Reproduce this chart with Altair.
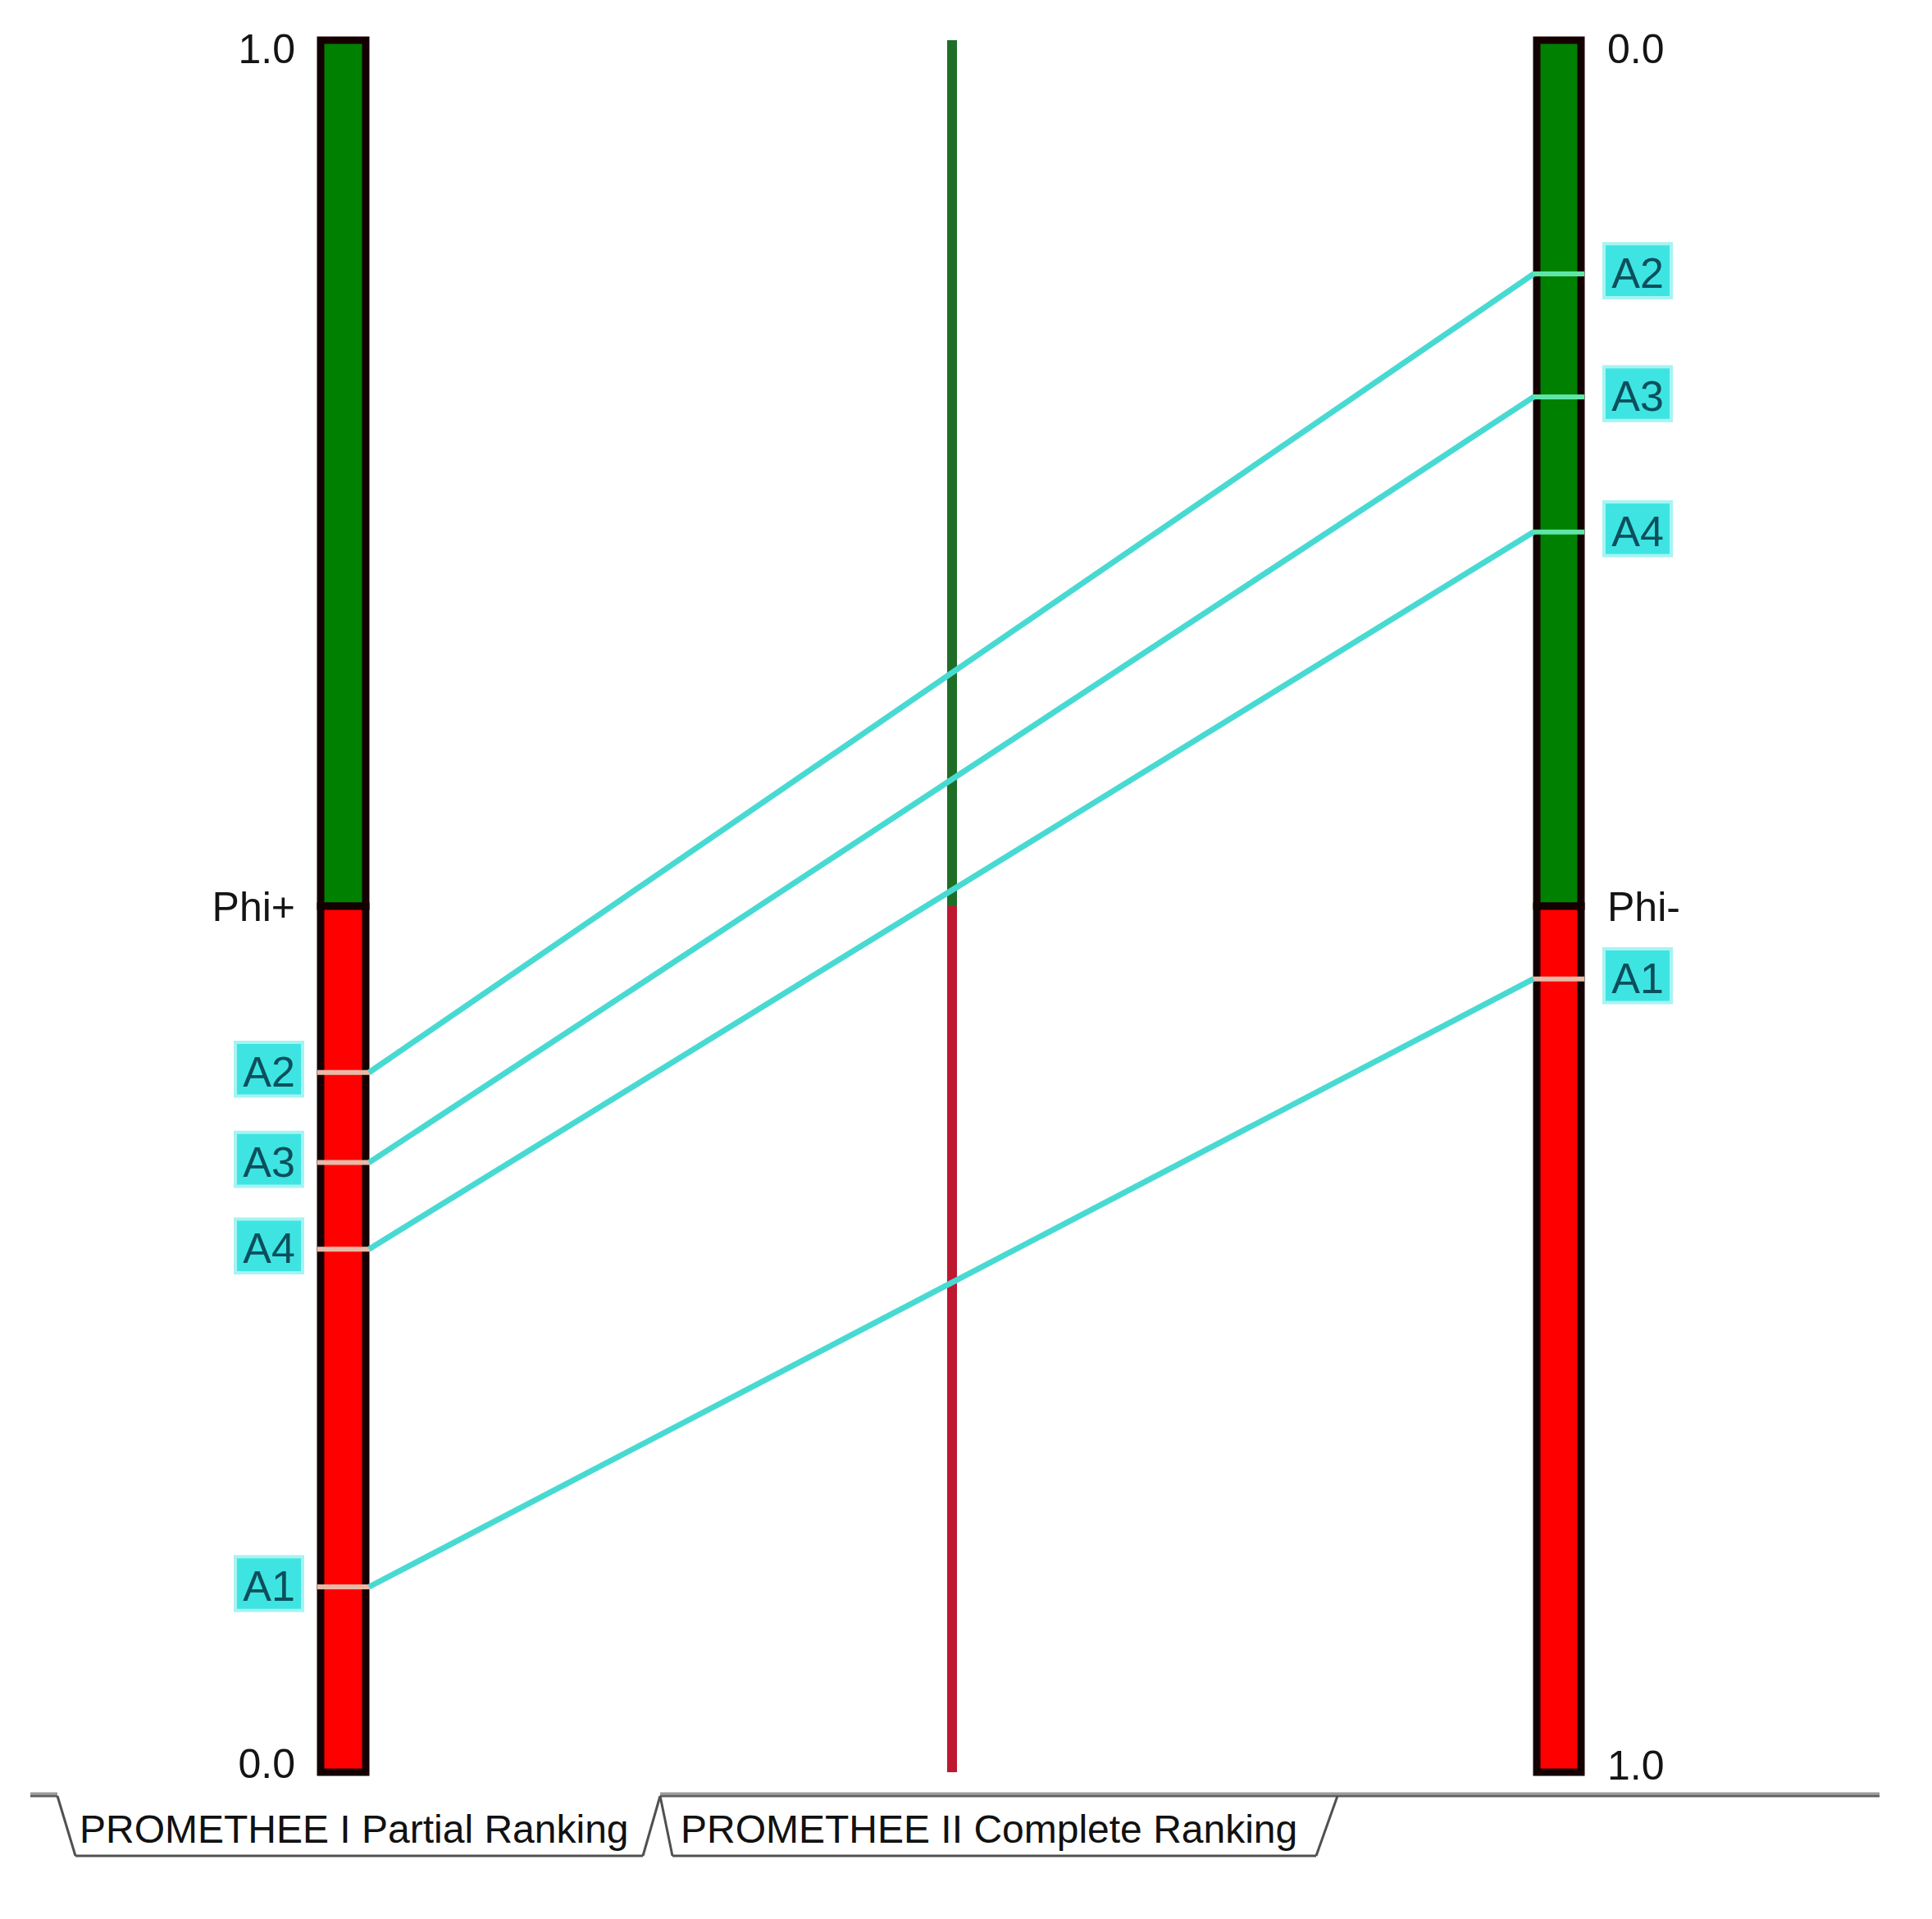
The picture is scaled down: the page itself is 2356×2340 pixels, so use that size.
import altair as alt
import pandas as pd

# ---------------- data ----------------
alternatives = ["A1", "A2", "A3", "A4"]
phi_plus = [0.107, 0.404, 0.352, 0.302]    # left scale, 0 bottom -> 1 top
phi_minus = [0.542, 0.135, 0.206, 0.284]   # right scale, 0 top -> 1 bottom

left_ticks = [1.0, 0.5, 0.0]
left_labels = ["1.0", "Phi+", "0.0"]
right_ticks = [0.0, 0.5, 1.0]
right_labels = ["0.0", "Phi-", "1.0"]

seg_lo = [0.5, 0.0]
seg_hi = [1.0, 0.5]
seg_bar_color = ["#008000", "#ff0000"]
seg_mid_color = ["#1f6e28", "#be1830"]

tab_titles = ["PROMETHEE I Partial Ranking", "PROMETHEE II Complete Ranking"]

# ---------------- layout (chart px) ----------------
W, H = 2340, 2324
YS = alt.Scale(domain=[0, 1], range=[2153, 41])
LBAR = (383, 438)
RBAR = (1866, 1920)
MIDX = 1153
LINE_X = (442, 1862)
LBOX_X, RBOX_X = 320, 1989
FONT = "Liberation Sans"

one = pd.DataFrame({"k": [0]})
segs = pd.DataFrame({"lo": seg_lo, "hi": seg_hi, "bc": seg_bar_color, "mc": seg_mid_color})
alts = pd.DataFrame({"alt": alternatives, "pp": phi_plus, "pm": phi_minus})

Y = lambda f: alt.Y(f, type="quantitative", scale=YS, axis=None)

layers = []

# bars
for x0, x1 in (LBAR, RBAR):
    layers.append(alt.Chart(segs).mark_rect(stroke="#140000", strokeWidth=9).encode(
        x=alt.value(x0), x2=alt.value(x1), y=Y("lo"), y2=alt.Y2("hi"),
        color=alt.Color("bc:N", scale=None)))

# middle line
layers.append(alt.Chart(segs).mark_rule(strokeWidth=12, strokeCap="butt").encode(
    x=alt.value(MIDX), y=Y("lo"), y2=alt.Y2("hi"), color=alt.Color("mc:N", scale=None)))

base = alt.Chart(alts).transform_calculate(q="1 - datum.pm")

# ticks across the bars
layers.append(base.mark_rule(strokeWidth=6, color="#eab8a6").encode(
    x=alt.value(LBAR[0] - 4), x2=alt.value(LBAR[1] + 6), y=Y("pp")))
layers.append(base.transform_filter("datum.q < 0.5").mark_rule(strokeWidth=6, color="#eab8a6").encode(
    x=alt.value(RBAR[0] - 6), x2=alt.value(RBAR[1] + 4), y=Y("q:Q")))
layers.append(base.transform_filter("datum.q >= 0.5").mark_rule(strokeWidth=6, color="#5ee6a8").encode(
    x=alt.value(RBAR[0] - 6), x2=alt.value(RBAR[1] + 4), y=Y("q:Q")))

# connecting lines
layers.append(base.mark_rule(strokeWidth=7, color="#48dad2").encode(
    x=alt.value(LINE_X[0]), x2=alt.value(LINE_X[1]), y=Y("pp"), y2=alt.Y2("q:Q")))

# label boxes + text
box_path = "M-1,-0.8L1,-0.8L1,0.8L-1,0.8Z"
for xc, field in ((LBOX_X, "pp"), (RBOX_X, "q:Q")):
    layers.append(base.mark_point(shape=box_path, size=6724, filled=True, opacity=1,
                                  fill="#3ee4e2", stroke="#a6f4f2", strokeWidth=4, yOffset=-4).encode(
        x=alt.value(xc), y=Y(field)))
    layers.append(base.mark_text(font=FONT, fontSize=52, color="#0c4f5c", align="center",
                                 baseline="alphabetic", dy=17).encode(
        x=alt.value(xc), y=Y(field), text="alt:N"))

# scale labels
left_dy = [28, 18, 7]
right_dy = [28, 18, 9]
for ticks, labels, dys, xpos, al in ((left_ticks, left_labels, left_dy, 352, "right"),
                                     (right_ticks, right_labels, right_dy, 1952, "left")):
    for t, lab, d in zip(ticks, labels, dys):
        pos = t if al == "right" else 1 - t
        df = pd.DataFrame({"v": [pos], "lab": [lab]})
        layers.append(alt.Chart(df).mark_text(font=FONT, fontSize=50, color="#141414", align=al,
                                              baseline="alphabetic", dy=d).encode(
            x=alt.value(xpos), y=Y("v"), text="lab:N"))

# tab strip outlines
segments = [
    (29, 2179, 62, 2179, "#9a9a9a", 3), (29, 2182, 62, 2182, "#5e5e5e", 3),
    (797, 2179, 2284, 2179, "#9a9a9a", 3), (797, 2182, 2284, 2182, "#5e5e5e", 3),
    (62, 2182, 84, 2255, "#505050", 3), (84, 2255, 776, 2255, "#505050", 3),
    (776, 2255, 797, 2182, "#505050", 3),
    (797, 2182, 812, 2255, "#505050", 3), (812, 2255, 1597, 2255, "#505050", 3),
    (1597, 2255, 1623, 2182, "#505050", 3),
]
for x0, y0, x1, y1, c, w in segments:
    layers.append(alt.Chart(one).mark_rule(color=c, strokeWidth=w).encode(
        x=alt.value(x0), y=alt.value(y0), x2=alt.value(x1), y2=alt.value(y1)))

for title, xpos in zip(tab_titles, (89, 822)):
    layers.append(alt.Chart(one).mark_text(font=FONT, fontSize=48, color="#111111", align="left",
                                           baseline="alphabetic", text=title).encode(
        x=alt.value(xpos), y=alt.value(2239)))

chart = alt.layer(*layers).properties(
    width=W, height=H, autosize="none", padding=0, background="white"
).configure_view(stroke=None)

chart.save("out.html", embed_options={"renderer": "svg", "actions": False})
